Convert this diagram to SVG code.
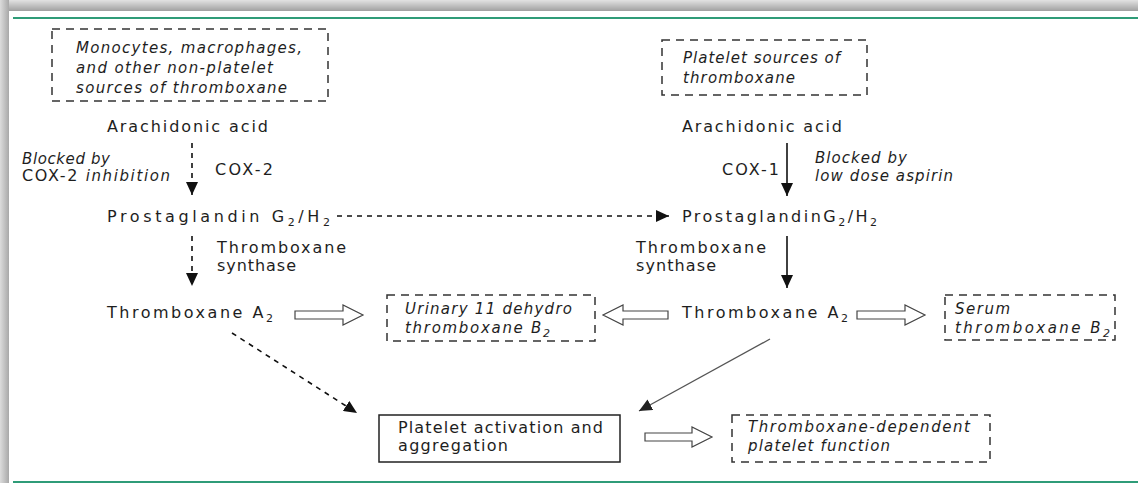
<svg xmlns="http://www.w3.org/2000/svg" width="1138" height="483" viewBox="0 0 1138 483">
<defs>
<linearGradient id="gTop" x1="0" y1="0" x2="0" y2="1">
<stop offset="0" stop-color="#e2e2e2"/><stop offset="1" stop-color="#a0a0a0"/>
</linearGradient>
<linearGradient id="gLeft" x1="0" y1="0" x2="1" y2="0">
<stop offset="0" stop-color="#dcdcdc"/><stop offset="1" stop-color="#a8a8a8"/>
</linearGradient>
<marker id="ah" markerUnits="userSpaceOnUse" markerWidth="14" markerHeight="12" refX="13" refY="6" orient="auto">
<path d="M0,0 L13,6 L0,12 Z" fill="#111"/>
</marker>
<marker id="ahg" markerUnits="userSpaceOnUse" markerWidth="14" markerHeight="12" refX="13" refY="6" orient="auto">
<path d="M0,0 L13,6 L0,12 Z" fill="#222"/>
</marker>
<style>
text{font-family:"DejaVu Sans","Liberation Sans",sans-serif;font-size:16px;fill:#1e1e1e;}
.it{font-style:italic;font-size:15px;}
.sub{font-size:11px;}
.dbox{fill:none;stroke:#333;stroke-width:1.5;stroke-dasharray:8,6;}
.sbox{fill:#fff;stroke:#222;stroke-width:1.5;}
.hol{fill:#fff;stroke:#444;stroke-width:1.2;}
.sol{stroke:#111;stroke-width:1.6;fill:none;}
.dash{stroke:#111;stroke-width:1.6;fill:none;stroke-dasharray:5,5;}
</style>
</defs>
<rect x="0" y="0" width="1138" height="483" fill="#fff"/>
<rect x="0" y="0" width="1138" height="11" fill="url(#gTop)"/>
<rect x="0" y="0" width="9" height="483" fill="url(#gLeft)"/>
<line x1="13" y1="18" x2="1138" y2="18" stroke="#2f9c78" stroke-width="2"/>
<line x1="13" y1="482" x2="1138" y2="482" stroke="#2f9c78" stroke-width="2"/>

<g id="connectors">
<line class="dash" x1="192" y1="143" x2="192" y2="195" marker-end="url(#ah)"/>
<line class="sol" x1="787" y1="143" x2="787" y2="196" marker-end="url(#ah)"/>
<line class="dash" x1="337" y1="216" x2="669" y2="216" marker-end="url(#ah)"/>
<line class="dash" x1="192" y1="236" x2="192" y2="286" marker-end="url(#ah)"/>
<line class="sol" x1="787" y1="236" x2="787" y2="288" marker-end="url(#ah)"/>
<line class="dash" x1="232" y1="333" x2="357" y2="413" marker-end="url(#ah)"/>
<line x1="770" y1="339" x2="639" y2="411" stroke="#555" stroke-width="1.3" marker-end="url(#ahg)"/>
<path class="hol" d="M295,311 H343 V305 L363,315 L343,325 V319 H295 Z"/>
<path class="hol" d="M668,311 H623 V305 L603,315 L623,325 V319 H668 Z"/>
<path class="hol" d="M857,311 H905 V305 L925,315 L905,325 V319 H857 Z"/>
<path class="hol" d="M645,433 H692 V427 L712,437 L692,447 V441 H645 Z"/>
</g>

<g id="nonplatelet-sources">
<rect class="dbox" x="52" y="29" width="276" height="72"/>
<text class="it" x="76" y="53" textLength="226" lengthAdjust="spacing">Monocytes, macrophages,</text>
<text class="it" x="76" y="73" textLength="197" lengthAdjust="spacing">and other non-platelet</text>
<text class="it" x="76" y="93" textLength="211" lengthAdjust="spacing">sources of thromboxane</text>
</g>

<g id="platelet-sources">
<rect class="dbox" x="662" y="40" width="205" height="55"/>
<text class="it" x="683" y="63" textLength="157" lengthAdjust="spacing">Platelet sources of</text>
<text class="it" x="683" y="83" textLength="112" lengthAdjust="spacing">thromboxane</text>
</g>

<g id="aa-left">
<text x="107" y="132" textLength="161" lengthAdjust="spacing">Arachidonic acid</text>
</g>
<g id="aa-right">
<text x="682" y="132" textLength="160" lengthAdjust="spacing">Arachidonic acid</text>
</g>

<g id="labels-left-cox">
<text class="it" x="22" y="164" textLength="88" lengthAdjust="spacing">Blocked by</text>
<text x="22" y="181" textLength="148" lengthAdjust="spacing">COX-2 <tspan class="it">inhibition</tspan></text>
<text x="215" y="175" textLength="58" lengthAdjust="spacing">COX-2</text>
</g>
<g id="labels-right-cox">
<text x="722" y="175" textLength="57" lengthAdjust="spacing">COX-1</text>
<text class="it" x="815" y="163" textLength="92" lengthAdjust="spacing">Blocked by</text>
<text class="it" x="815" y="181" textLength="138" lengthAdjust="spacing">low dose aspirin</text>
</g>

<g id="pg-left">
<text x="107" y="222" textLength="223" lengthAdjust="spacing">Prostaglandin G<tspan class="sub" dy="4">2</tspan><tspan dy="-4">/H</tspan><tspan class="sub" dy="4">2</tspan></text>
</g>
<g id="pg-right">
<text x="682" y="222" textLength="195" lengthAdjust="spacing">ProstaglandinG<tspan class="sub" dy="4">2</tspan><tspan dy="-4">/H</tspan><tspan class="sub" dy="4">2</tspan></text>
</g>

<g id="labels-synthase">
<text x="217" y="253" textLength="129" lengthAdjust="spacing">Thromboxane</text>
<text x="217" y="271" textLength="79" lengthAdjust="spacing">synthase</text>
<text x="636" y="253" textLength="130" lengthAdjust="spacing">Thromboxane</text>
<text x="636" y="271" textLength="80" lengthAdjust="spacing">synthase</text>
</g>

<g id="txa2-left">
<text x="107" y="318" textLength="166" lengthAdjust="spacing">Thromboxane A<tspan class="sub" dy="4">2</tspan></text>
</g>
<g id="txa2-right">
<text x="682" y="318" textLength="166" lengthAdjust="spacing">Thromboxane A<tspan class="sub" dy="4">2</tspan></text>
</g>

<g id="urinary">
<rect class="dbox" x="387" y="295" width="208" height="46"/>
<text class="it" x="405" y="314" textLength="167" lengthAdjust="spacing">Urinary 11 dehydro</text>
<text class="it" x="405" y="333" textLength="145" lengthAdjust="spacing">thromboxane B<tspan class="sub" dy="4">2</tspan></text>
</g>

<g id="serum">
<rect class="dbox" x="945" y="295" width="170" height="45"/>
<text class="it" x="955" y="314" textLength="55" lengthAdjust="spacing">Serum</text>
<text class="it" x="955" y="333" textLength="155" lengthAdjust="spacing">thromboxane B<tspan class="sub" dy="4">2</tspan></text>
</g>

<g id="platelet-activation">
<rect class="sbox" x="379" y="415" width="241" height="47"/>
<text x="398" y="433" textLength="205" lengthAdjust="spacing">Platelet activation and</text>
<text x="398" y="451" textLength="110" lengthAdjust="spacing">aggregation</text>
</g>

<g id="tx-dependent">
<rect class="dbox" x="732" y="415" width="258" height="47"/>
<text class="it" x="748" y="432" textLength="222" lengthAdjust="spacing">Thromboxane-dependent</text>
<text class="it" x="748" y="451" textLength="142" lengthAdjust="spacing">platelet function</text>
</g>
</svg>
